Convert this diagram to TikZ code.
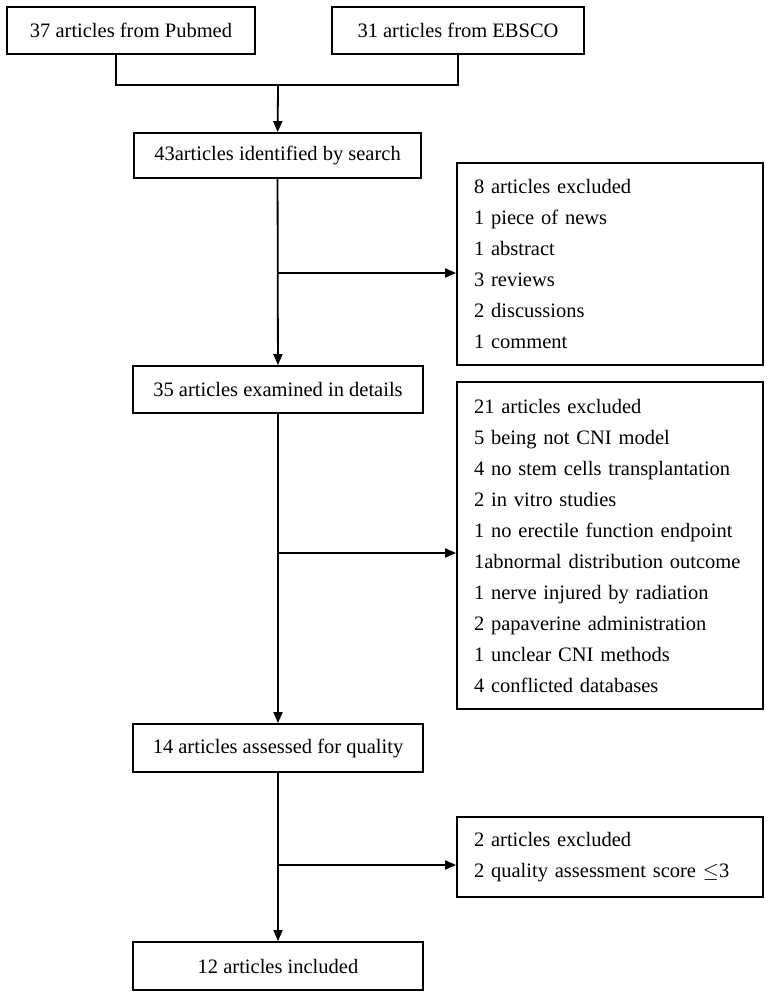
\documentclass[tikz,border=0pt]{standalone}
\usepackage{fontspec}
\setmainfont{Liberation Serif}
\usetikzlibrary{arrows.meta}

\begin{document}
\begin{tikzpicture}[x=1pt, y=-1pt, line width=1.8pt,
    box/.style={draw, minimum height=47pt, inner sep=0pt, font=\fontsize{20.5}{31}\selectfont},
    exclbox/.style={draw, text width=272pt, inner xsep=17pt, inner ysep=0pt, align=left, font=\fontsize{20.5}{31}\selectfont},
    arr/.style={-{Triangle[length=11pt, width=9pt]}}]
        \useasboundingbox (0, 0) rectangle (771, 997);
        % sources
        \node[box, minimum width=248pt] (pubmed) at (131, 30.5) {37 articles from Pubmed};
        \node[box, minimum width=252pt] (ebsco) at (458, 30.5) {31 articles from EBSCO};
        % main column
        \node[box, minimum width=287pt, minimum height=45pt] (search) at (277.5, 155.5) {43articles identified by search};
        \node[box, minimum width=290pt] (examined) at (278, 389.5) {35 articles examined in details};
        \node[box, minimum width=290pt, minimum height=48pt] (quality) at (278, 748) {14 articles assessed for quality};
        \node[box, minimum width=290pt, minimum height=48pt] (included) at (278, 966) {12 articles included};
        % exclusions
        \node[exclbox, minimum height=202pt] (excl1) at (610, 264) {8 articles excluded\\ 1 piece of news\\ 1 abstract\\ 3 reviews\\ 2 discussions\\ 1 comment};
        \node[exclbox, minimum height=327pt] (excl2) at (610, 545.5) {21 articles excluded\\ 5 being not CNI model\\ 4 no stem cells transplantation\\ 2 in vitro studies\\ 1 no erectile function endpoint\\ 1abnormal distribution outcome\\ 1 nerve injured by radiation\\ 2 papaverine administration\\ 1 unclear CNI methods\\ 4 conflicted databases};
        \node[exclbox, minimum height=80pt] (excl3) at (610, 857) {2 articles excluded\\ 2 quality assessment score $\leq$3};
        % connectors
        \coordinate (join) at (278, 85);
        \coordinate (pubmedleg) at (116, 85);
        \draw (pubmedleg |- pubmed.south) -- (pubmedleg) -- (join -| ebsco.south) -- (ebsco.south);
        \draw[arr] (join) -- (search);
        \draw[arr] (search) -- (examined);
        \draw[arr] (examined) -- (quality);
        \draw[arr] (quality) -- (included);
        \coordinate (fork1) at (278, 273);
        \coordinate (fork2) at (278, 553);
        \coordinate (fork3) at (278, 865);
        \foreach \k in {1,2,3} {
            \draw[arr] (fork\k) -- (fork\k -| excl\k.west);
        }
\end{tikzpicture}
\end{document}
